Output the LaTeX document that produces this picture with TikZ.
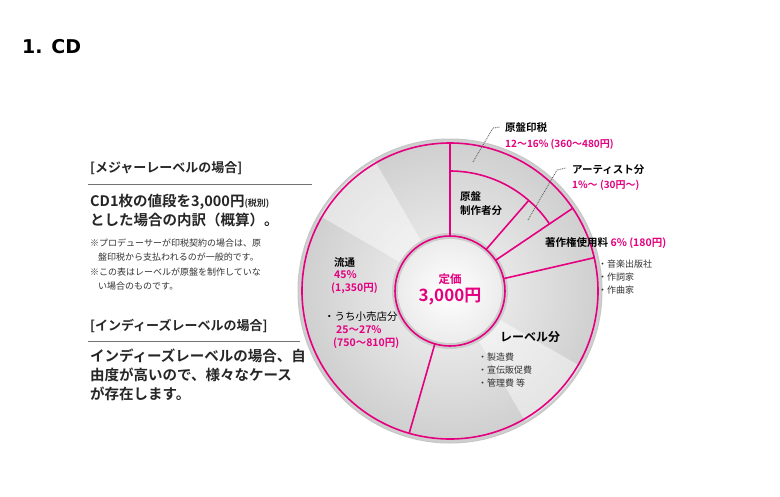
\documentclass[tikz,border=0pt]{standalone}
\usepackage{fontspec}
\usetikzlibrary{calc}
\setmainfont{DejaVu Sans}
\newfontfamily\jp[BoldFont={Noto Sans CJK JP Bold}]{Noto Sans CJK JP}
\definecolor{pk}{RGB}{228,0,127}
\begin{document}
\begin{tikzpicture}[x=1pt,y=-1pt,
  lab/.style={anchor=west,inner sep=0pt,font=\jp\bfseries\fontsize{10.5}{12}\selectfont},
  plab/.style={lab,text=pk},
  body/.style={anchor=west,inner sep=0pt,font=\jp\bfseries\fontsize{14.5}{17}\selectfont,text=black!85},
  note/.style={anchor=west,inner sep=0pt,font=\jp\fontsize{9}{11}\selectfont,text=black!80},
  pline/.style={pk,line width=1.6pt},
  dotl/.style={black!70,densely dotted,line width=0.8pt}]
\useasboundingbox (0,0) rectangle (780,496);
\fill[white] (0,0) rectangle (780,496);
\node[anchor=west,inner sep=0pt,font=\bfseries\fontsize{19}{22}\selectfont] (title) at (22,47) {1. CD};
% left text
\node[body,font=\jp\bfseries\fontsize{13}{15}\selectfont] (h1) at (90,168) {[メジャーレーベルの場合]};
\draw[black!55,line width=0.8pt] (88,184) -- (312,184);
\node[body] (b1) at (90,202) {CD1枚の値段を3,000円{\fontsize{9}{11}\selectfont (税別)}};
\node[body] (b2) at (90,220) {とした場合の内訳（概算）。};
\node[note] (n1) at (90,243) {※プロデューサーが印税契約の場合は、原};
\node[note] (n2) at (98,257) {盤印税から支払われるのが一般的です。};
\node[note] (n3) at (90,272) {※この表はレーベルが原盤を制作していな};
\node[note] (n4) at (98,286) {い場合のものです。};
\node[body,font=\jp\bfseries\fontsize{13}{15}\selectfont] (h2) at (90,326) {[インディーズレーベルの場合]};
\draw[black!55,line width=0.8pt] (88,341) -- (300,341);
\node[body] (c1) at (90,356) {インディーズレーベルの場合、自};
\node[body] (c2) at (90,375) {由度が高いので、様々なケース};
\node[body] (c3) at (90,394) {が存在します。};
% disc (angles negated because y axis points down)
\coordinate (O) at (450,291);
\shade[inner color=gray!8,outer color=gray!38] (O) circle (152);
\fill[white,opacity=0.45] (O) -- ++(-120:150) arc[start angle=-120,end angle=-150,radius=150] -- cycle;
\fill[white,opacity=0.45] (O) -- ++(60:150) arc[start angle=60,end angle=30,radius=150] -- cycle;
\draw[gray!45,line width=1pt] (O) circle (152);
\draw[pline] (O) circle (148);
\fill[gray!40] (O) circle (58);
\shade[inner color=white,outer color=gray!15] (O) circle (52);
\draw[pline] (O) circle (55);
% radial lines
\draw[pline] ($(O)+(-90:55)$) -- ($(O)+(-90:148)$);
\draw[pline] ($(O)+(-34:55)$) -- ($(O)+(-34:148)$);
\draw[pline] ($(O)+(-13:55)$) -- ($(O)+(-13:148)$);
\draw[pline] ($(O)+(106:55)$) -- ($(O)+(106:148)$);
\draw[pline] ($(O)+(-49:55)$) -- ($(O)+(-49:120)$);
\draw[pline] ($(O)+(-90:120)$) arc[start angle=-90,end angle=-34,radius=120];
% leader lines
\coordinate (d1a) at (473,162); \coordinate (d1b) at (493,128); \coordinate (d1c) at (500,127);
\draw[dotl] (d1a) -- (d1b) -- (d1c);
\coordinate (d2a) at (528,220); \coordinate (d2b) at (557,170); \coordinate (d2c) at (566,168);
\draw[dotl] (d2a) -- (d2b) -- (d2c);
% labels
\node[lab] (g1) at (505,128) {原盤印税};
\node[plab,font=\jp\bfseries\fontsize{10}{11}\selectfont] (g2) at (505,144) {12～16\% (360～480円)};
\node[lab] (a1) at (572,170) {アーティスト分};
\node[plab,font=\jp\bfseries\fontsize{10}{11}\selectfont] (a2) at (572,185) {1\%～ (30円～)};
\node[lab] (s1) at (545,243) {著作権使用料 \textcolor{pk}{6\% (180円)}};
\node[note] (s2) at (598,264) {・音楽出版社};
\node[note] (s3) at (598,277) {・作詞家};
\node[note] (s4) at (598,290) {・作曲家};
\node[lab] (m1) at (460,197) {原盤};
\node[lab] (m2) at (460,211) {制作者分};
\node[lab] (r1) at (334,262) {流通};
\node[plab] (r2) at (334,275) {45\%};
\node[plab] (r3) at (331,288) {(1,350円)};
\node[lab,font=\jp\fontsize{10.5}{12}\selectfont] (r4) at (324,317) {・うち小売店分};
\node[plab] (r5) at (336,330) {25～27\%};
\node[plab] (r6) at (333,343) {(750～810円)};
\node[font=\jp\bfseries\fontsize{11.5}{13}\selectfont,text=pk,inner sep=0pt] (t1) at (450,279) {定価};
\node[font=\jp\bfseries\fontsize{17}{18}\selectfont,text=pk,inner sep=0pt] (t2) at (450,297) {3,000円};
\node[lab,font=\jp\bfseries\fontsize{12}{13}\selectfont] (l1) at (500,337) {レーベル分};
\node[note] (l2) at (478,357) {・製造費};
\node[note] (l3) at (478,370) {・宣伝販促費};
\node[note] (l4) at (478,383) {・管理費 等};
\end{tikzpicture}
\end{document}
